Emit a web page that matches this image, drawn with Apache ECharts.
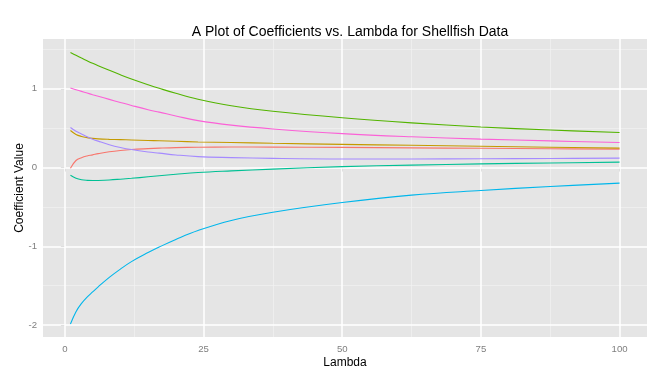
<!DOCTYPE html>
<html>
<head>
<meta charset="utf-8">
<script src="https://cdn.jsdelivr.net/npm/echarts@6/dist/echarts.min.js"></script>
<style>html,body{margin:0;padding:0;background:#fff;}#c{width:666px;height:380px;}</style>
</head>
<body>
<div id="c"></div>
<script>
// Data
var lambda     = [1, 2, 3, 4, 5, 6, 8, 10, 12, 15, 17, 20, 24, 30, 37.5, 50, 62.5, 75, 87.5, 100];
var coefRed    = [-0.008, 0.089, 0.125, 0.147, 0.161, 0.176, 0.200, 0.217, 0.229, 0.240, 0.246, 0.253, 0.258, 0.260, 0.259, 0.256, 0.250, 0.244, 0.239, 0.234];
var coefGold   = [0.470, 0.420, 0.395, 0.380, 0.370, 0.364, 0.358, 0.354, 0.350, 0.344, 0.340, 0.333, 0.325, 0.317, 0.308, 0.294, 0.282, 0.270, 0.258, 0.246];
var coefGreen  = [1.461, 1.425, 1.390, 1.356, 1.323, 1.292, 1.234, 1.178, 1.125, 1.052, 1.006, 0.942, 0.868, 0.785, 0.715, 0.632, 0.567, 0.515, 0.476, 0.445];
var coefTeal   = [-0.097, -0.135, -0.155, -0.163, -0.165, -0.164, -0.158, -0.148, -0.137, -0.118, -0.105, -0.086, -0.064, -0.043, -0.020, 0.011, 0.031, 0.046, 0.058, 0.068];
var coefBlue   = [-1.986, -1.830, -1.725, -1.645, -1.580, -1.515, -1.395, -1.290, -1.195, -1.080, -1.010, -0.913, -0.800, -0.672, -0.568, -0.445, -0.351, -0.292, -0.241, -0.198];
var coefPurple = [0.508, 0.460, 0.425, 0.390, 0.360, 0.335, 0.290, 0.255, 0.228, 0.198, 0.183, 0.160, 0.138, 0.126, 0.116, 0.109, 0.109, 0.112, 0.115, 0.119];
var coefPink   = [1.009, 0.988, 0.967, 0.946, 0.925, 0.905, 0.865, 0.826, 0.788, 0.734, 0.703, 0.655, 0.595, 0.538, 0.490, 0.430, 0.390, 0.361, 0.338, 0.318];

var xTicks = [0, 25, 50, 75, 100];
var xMinor = [12.5, 37.5, 62.5, 87.5];
var yTicks = [-2, -1, 0, 1];
var yMinor = [-1.5, -0.5, 0.5, 1.5];

var seriesList = [
  {name: 'V1', values: coefRed,    color: '#F8766D'},
  {name: 'V2', values: coefGold,   color: '#C49A00'},
  {name: 'V3', values: coefGreen,  color: '#53B400'},
  {name: 'V4', values: coefTeal,   color: '#00C094'},
  {name: 'V5', values: coefBlue,   color: '#00B6EB'},
  {name: 'V6', values: coefPurple, color: '#A58AFF'},
  {name: 'V7', values: coefPink,   color: '#FB61D7'}
];

function pairs(vals) { return lambda.map(function (l, i) { return [l, vals[i]]; }); }

var gridLines = [];
xMinor.forEach(function (v) { gridLines.push({xAxis: v, lineStyle: {color: '#F2F2F2', width: 0.7, type: 'solid'}}); });
yMinor.forEach(function (v) { gridLines.push({yAxis: v, lineStyle: {color: '#F2F2F2', width: 0.7, type: 'solid'}}); });
xTicks.forEach(function (v) { gridLines.push({xAxis: v, lineStyle: {color: '#FFFFFF', width: 1.5, type: 'solid'}}); });
yTicks.forEach(function (v) { gridLines.push({yAxis: v, lineStyle: {color: '#FFFFFF', width: 1.5, type: 'solid'}}); });

var series = [{
  type: 'line', data: [], silent: true, z: 1,
  markLine: {silent: true, symbol: 'none', label: {show: false}, animation: false,
    emphasis: {disabled: true}, lineStyle: {type: 'solid'}, data: gridLines}
}];
seriesList.forEach(function (s) {
  series.push({
    name: s.name, type: 'line', data: pairs(s.values), smooth: 0.4,
    showSymbol: false, symbol: 'none', zlevel: 1, z: 3,
    lineStyle: {color: s.color, width: 1.1}, itemStyle: {color: s.color}
  });
});

var chart = echarts.init(document.getElementById('c'), null, {renderer: 'canvas'});
chart.setOption({
  animation: false,
  textStyle: {fontFamily: 'Liberation Sans'},
  title: {
    text: 'A Plot of Coefficients vs. Lambda for Shellfish Data',
    left: 345, top: 20, textAlign: 'center',
    textStyle: {fontFamily: 'Liberation Sans', fontSize: 14, fontWeight: 'normal', color: '#000'}
  },
  grid: {left: 43, right: 19, top: 39, bottom: 43, show: true, backgroundColor: '#E5E5E5', borderWidth: 0},
  xAxis: {
    type: 'value', min: -3.95, max: 104.95,
    name: 'Lambda', nameLocation: 'middle', nameGap: 20, nameMoveOverlap: false,
    nameTextStyle: {fontFamily: 'Liberation Sans', fontSize: 12, color: '#000'},
    axisLine: {show: false},
    axisTick: {show: true, length: 4, customValues: xTicks, lineStyle: {color: '#7F7F7F', width: 1}},
    axisLabel: {customValues: xTicks, margin: 7, fontSize: 9.6, color: '#7F7F7F', fontFamily: 'Liberation Sans'},
    splitLine: {show: false}
  },
  yAxis: {
    type: 'value', min: -2.152, max: 1.632,
    name: 'Coefficient Value', nameLocation: 'middle', nameGap: 17, nameRotate: 90, nameMoveOverlap: false,
    nameTextStyle: {fontFamily: 'Liberation Sans', fontSize: 12, color: '#000'},
    axisLine: {show: false},
    axisTick: {show: true, length: 4, customValues: yTicks, lineStyle: {color: '#7F7F7F', width: 1}},
    axisLabel: {customValues: yTicks, margin: 6, fontSize: 9.6, color: '#7F7F7F', fontFamily: 'Liberation Sans'},
    splitLine: {show: false}
  },
  series: series
});
</script>
</body>
</html>
